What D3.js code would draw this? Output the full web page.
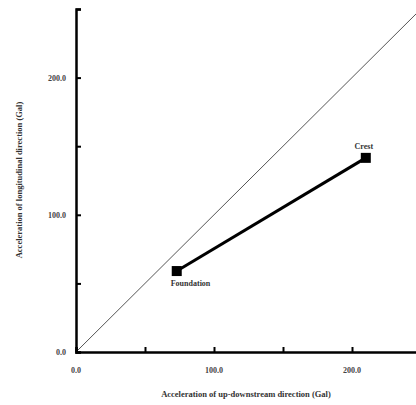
<!DOCTYPE html>
<html><head><meta charset="utf-8">
<script src="https://cdn.jsdelivr.net/npm/d3@7"></script>
<style>body{margin:0;background:#fff}text{font-family:"Liberation Serif",serif;font-weight:bold}</style>
</head><body><svg id="c" width="416" height="405"></svg>
<script>
const pointNames = ["Foundation", "Crest"];
const xValues = [73, 210];
const yValues = [59, 141.5];
const tickValues = [0, 50, 100, 150, 200, 250];
const tickLabels = ["0.0", "", "100.0", "", "200.0", ""];

const svg = d3.select("#c");
const x = d3.scaleLinear().domain([0, 250]).range([76, 421]);
const y = d3.scaleLinear().domain([0, 250]).range([352, 9]);

// y = x reference line
svg.append("line").attr("x1", x(0)).attr("y1", y(0)).attr("x2", x(250)).attr("y2", y(250))
    .attr("stroke", "#555").attr("stroke-width", 1);

const xAxis = svg.append("g").attr("transform", `translate(0,${y(0)})`)
    .call(d3.axisTop(x).tickValues(tickValues).tickSize(5).tickFormat(""));
xAxis.select(".domain").attr("stroke-width", 2.5);
xAxis.selectAll("line").attr("stroke-width", 2);
svg.selectAll(".xl").data(tickValues).join("text")
    .attr("x", d => x(d)).attr("y", 373).attr("text-anchor", "middle")
    .attr("font-size", 8).attr("fill", "#444").text((d, i) => tickLabels[i]);

const yAxis = svg.append("g").attr("transform", `translate(${x(0)},0)`)
    .call(d3.axisRight(y).tickValues(tickValues).tickSize(5).tickFormat(""));
yAxis.select(".domain").attr("stroke-width", 2.5);
yAxis.selectAll("line").attr("stroke-width", 2);
svg.selectAll(".yl").data(tickValues).join("text")
    .attr("x", 66).attr("y", d => y(d) + 3).attr("text-anchor", "end")
    .attr("font-size", 8).attr("fill", "#444").text((d, i) => tickLabels[i]);

svg.append("text").attr("x", 246).attr("y", 397).attr("text-anchor", "middle")
    .attr("font-size", 8.5).attr("fill", "#333").text("Acceleration of up-downstream direction (Gal)");
svg.append("text").attr("transform", "translate(22,180) rotate(-90)").attr("text-anchor", "middle")
    .attr("font-size", 8.5).attr("fill", "#333").text("Acceleration of longitudinal direction (Gal)");

const pts = pointNames.map((n, i) => ({n, x: xValues[i], y: yValues[i]}));
svg.append("path").datum(pts)
    .attr("d", d3.line().x(d => x(d.x)).y(d => y(d.y)))
    .attr("stroke", "#000").attr("stroke-width", 3).attr("fill", "none");
svg.selectAll(".pt").data(pts).join("rect")
    .attr("x", d => x(d.x) - 5).attr("y", d => y(d.y) - 5).attr("width", 10).attr("height", 10).attr("fill", "#000");
svg.selectAll(".pl").data(pts).join("text")
    .attr("x", (d, i) => i ? x(d.x) - 2 : x(d.x) - 6)
    .attr("y", (d, i) => i ? y(d.y) - 9 : y(d.y) + 15)
    .attr("text-anchor", (d, i) => i ? "middle" : "start")
    .attr("font-size", 8).attr("fill", "#333").text(d => d.n);
</script></body></html>
